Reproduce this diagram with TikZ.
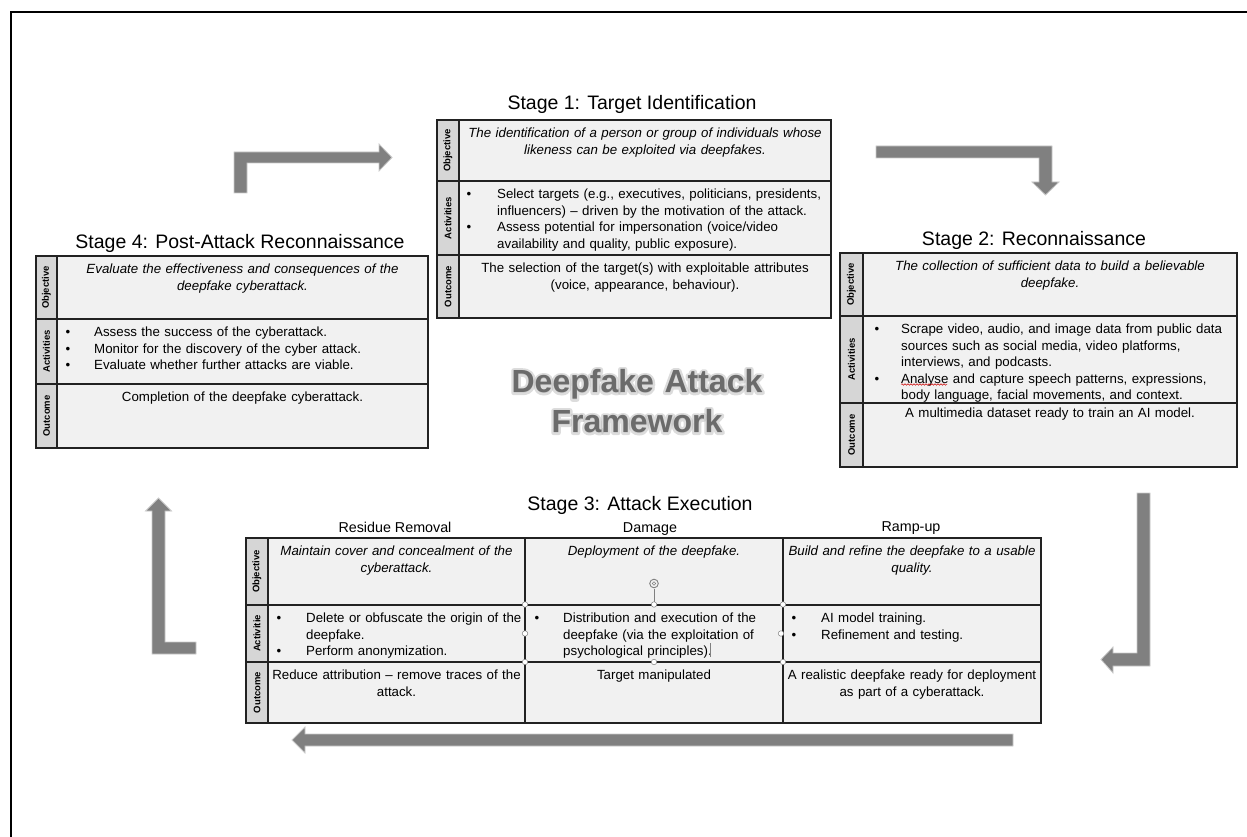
\documentclass[tikz,border=0pt]{standalone}
\usepackage{fontspec}
\setmainfont{Liberation Sans}
\usetikzlibrary{decorations.pathmorphing}
\definecolor{labgray}{HTML}{D6D6D6}
\definecolor{cellgray}{HTML}{F1F1F1}
\definecolor{edge}{HTML}{222222}
\definecolor{arr}{HTML}{808080}
\definecolor{arredge}{HTML}{CACACA}
\definecolor{ctitle}{HTML}{6B6B6B}
\newcommand{\bodyfont}{\fontsize{13.3}{16.5}\selectfont}
\newcommand{\bl}[1]{\strut\makebox[#1pt][l]{\textbullet}}
\newcommand{\ind}[1]{\strut\hspace*{#1pt}}
\tikzset{
  labcell/.style={fill=labgray, draw=edge, line width=1.6pt},
  cellbox/.style={fill=cellgray, draw=edge, line width=1.6pt},
  labtxt/.style={rotate=90, font=\fontsize{9.5}{11}\selectfont\bfseries, inner sep=0},
  ctext/.style={anchor=north, align=center, text width=#1, inner sep=0, font=\bodyfont},
  btext/.style={anchor=north west, align=left, text width=#1, inner sep=0, font=\bodyfont},
  stagetitle/.style={anchor=base, font=\fontsize{19.5}{23}\selectfont, inner sep=0},
  colhead/.style={anchor=base, font=\fontsize{14.3}{17}\selectfont, inner sep=0},
  blockarrow/.style={fill=arr, draw=arredge, line width=0.8pt, line join=miter},
  handle/.style={circle, fill=white, draw=gray, line width=0.5pt, minimum size=5.5pt, inner sep=0},
  bigtitle/.style={anchor=north, align=center, text width=320pt, inner sep=0,
     font=\fontsize{32}{40}\selectfont\bfseries},
}
\begin{document}
\begin{tikzpicture}[x=1pt,y=-1pt]
\useasboundingbox (0,0) rectangle (1247,837);
% frame (top and left edges only)
\draw[line width=2pt] (11,837) -- (11,12) -- (1247,12);

% ---------------- Stage 1 ----------------
\node[stagetitle] (s1t) at (632,109.3) {Stage 1: Target Identification};
\draw[cellbox] (459,120) rectangle (831,181);
\draw[cellbox] (459,181) rectangle (831,255);
\draw[cellbox] (459,255) rectangle (831,318);
\draw[labcell] (437,120) rectangle (459,181);
\draw[labcell] (437,181) rectangle (459,255);
\draw[labcell] (437,255) rectangle (459,318);
\node[labtxt] (s1lo) at (448,150.5) {Objective};
\node[labtxt] (s1la) at (448,218) {Activities};
\node[labtxt] (s1lu) at (448,286.5) {Outcome};
\node[ctext=380pt] (s1o) at (645,126) {\strut\itshape The identification of a person or group of individuals whose\\ likeness can be exploited via deepfakes.};
\node[btext=380pt] (s1a) at (466.5,187) {\bl{30.5}Select targets (e.g., executives, politicians, presidents,\\ \ind{30.5}influencers) – driven by the motivation of the attack.\\ \bl{30.5}Assess potential for impersonation (voice/video\\ \ind{30.5}availability and quality, public exposure).};
\node[ctext=380pt] (s1u) at (645,261) {\strut The selection of the target(s) with exploitable attributes\\ (voice, appearance, behaviour).};

% ---------------- Stage 4 ----------------
\node[stagetitle] (s4t) at (240,248.3) {Stage 4: Post-Attack Reconnaissance};
\draw[cellbox] (57,256) rectangle (428,319);
\draw[cellbox] (57,319) rectangle (428,384);
\draw[cellbox] (57,384) rectangle (428,448);
\draw[labcell] (36,256) rectangle (57,319);
\draw[labcell] (36,319) rectangle (57,384);
\draw[labcell] (36,384) rectangle (57,448);
\node[labtxt] (s4lo) at (46.5,287.5) {Objective};
\node[labtxt] (s4la) at (46.5,351.5) {Activities};
\node[labtxt] (s4lu) at (46.5,416) {Outcome};
\node[ctext=380pt] (s4o) at (242.5,262) {\strut\itshape Evaluate the effectiveness and consequences of the\\ deepfake cyberattack.};
\node[btext=370pt] (s4a) at (65.5,325) {\bl{28.5}Assess the success of the cyberattack.\\ \bl{28.5}Monitor for the discovery of the cyber attack.\\ \bl{28.5}Evaluate whether further attacks are viable.};
\node[ctext=380pt] (s4u) at (242.5,390) {\strut Completion of the deepfake cyberattack.};

% ---------------- Stage 2 ----------------
\node[stagetitle] (s2t) at (1034,245) {Stage 2: Reconnaissance};
\draw[cellbox] (863,253) rectangle (1237,316);
\draw[cellbox] (863,316) rectangle (1237,403);
\draw[cellbox] (863,403) rectangle (1237,467);
\draw[labcell] (840,253) rectangle (863,316);
\draw[labcell] (840,316) rectangle (863,403);
\draw[labcell] (840,403) rectangle (863,467);
\node[labtxt] (s2lo) at (851.5,284.5) {Objective};
\node[labtxt] (s2la) at (851.5,359.5) {Activities};
\node[labtxt] (s2lu) at (851.5,435) {Outcome};
\node[ctext=380pt] (s2o) at (1050,259) {\strut\itshape The collection of sufficient data to build a believable\\ deepfake.};
\node[btext=380pt] (s2a) at (874.5,322) {\bl{26.5}Scrape video, audio, and image data from public data\\ \ind{26.5}sources such as social media, video platforms,\\ \ind{26.5}interviews, and podcasts.\\ \bl{26.5}Analyse and capture speech patterns, expressions,\\ \ind{26.5}body language, facial movements, and context.};
\node[ctext=380pt] (s2u) at (1050,406) {\strut A multimedia dataset ready to train an AI model.};
\draw[red!80!black, line width=0.5pt, decorate, decoration={snake, amplitude=0.8pt, segment length=3pt}] (901,384.5) -- (947,384.5);

% ---------------- Stage 3 ----------------
\node[stagetitle] (s3t) at (640,510) {Stage 3: Attack Execution};
\node[colhead] (s3h1) at (395,532.7) {Residue Removal};
\node[colhead] (s3h2) at (650,532.7) {Damage};
\node[colhead] (s3h3) at (911,531.7) {Ramp-up};
\foreach \xa/\xb in {268/525,525/783,783/1041}{
  \draw[cellbox] (\xa,538) rectangle (\xb,605);
  \draw[cellbox] (\xa,605) rectangle (\xb,662);
  \draw[cellbox] (\xa,662) rectangle (\xb,723);
}
\draw[labcell] (246,538) rectangle (268,605);
\draw[labcell] (246,605) rectangle (268,662);
\draw[labcell] (246,662) rectangle (268,723);
\node[labtxt] (s3lo) at (257,571.5) {Objective};
\node[labtxt] (s3la) at (257,633.5) {Activitie};
\node[labtxt] (s3lu) at (257,692.5) {Outcome};
% objective row
\node[ctext=270pt] (s3o1) at (396.5,544) {\strut\itshape Maintain cover and concealment of the\\ cyberattack.};
\node[ctext=270pt] (s3o2) at (654,544) {\strut\itshape Deployment of the deepfake.};
\node[ctext=270pt] (s3o3) at (912,544) {\strut\itshape Build and refine the deepfake to a usable\\ quality.};
% activities row
\node[btext=270pt] (s3a1) at (276.5,611) {\bl{29.5}Delete or obfuscate the origin of the\\ \ind{29.5}deepfake.\\ \bl{29.5}Perform anonymization.};
\node[btext=270pt] (s3a2) at (534.5,611) {\bl{28.5}Distribution and execution of the\\ \ind{28.5}deepfake (via the exploitation of\\ \ind{28.5}psychological principles).};
\node[btext=270pt] (s3a3) at (791.5,611) {\bl{29.5}AI model training.\\ \bl{29.5}Refinement and testing.};
% outcome row
\node[ctext=270pt] (s3u1) at (396.5,668) {\strut Reduce attribution – remove traces of the\\ attack.};
\node[ctext=270pt] (s3u2) at (654,668) {\strut Target manipulated};
\node[ctext=270pt] (s3u3) at (912,668) {\strut A realistic deepfake ready for deployment\\ as part of a cyberattack.};
% selection handles
\draw[gray, line width=0.6pt] (654,589) -- (654,604);
\draw[gray, line width=0.9pt] (654,583.5) circle (4.3);
\draw[gray, line width=0.6pt] (654,583.5) circle (1.8);
\node[handle] (h1) at (525,604.5) {};
\node[handle] (h2) at (525,633.5) {};
\node[handle] (h3) at (525,662) {};
\node[handle] (h4) at (654,604.5) {};
\node[handle] (h5) at (654,662) {};
\node[handle] (h6) at (783,604.5) {};
\node[handle] (h7) at (781,633.5) {};
\node[handle] (h8) at (783,662) {};
\draw[gray, line width=0.5pt] (710.5,643) -- (710.5,657);

% ---------------- centre title ----------------
\node[bigtitle, text=black!30, opacity=0.45] (ctshadow) at (637,364.5)
  {\special{pdf:literal direct 2 Tr 5 w 1 j}\strut Deepfake Attack\\ Framework};
\node[bigtitle, text=ctitle] (ctit) at (637,364) {\strut Deepfake Attack\\ Framework};

% ---------------- block arrows ----------------
\draw[blockarrow] (234,193) -- (234,152) -- (379,152) -- (379,144) -- (392,157.5) -- (379,171) -- (379,163) -- (247,163) -- (247,193) -- cycle;
\draw[blockarrow] (876,146) -- (1052,146) -- (1052,182) -- (1059,182) -- (1045.5,195) -- (1032,182) -- (1039,182) -- (1039,158) -- (876,158) -- cycle;
\draw[blockarrow] (1137,493) -- (1150,493) -- (1150,666) -- (1113,666) -- (1113,673) -- (1101,659.5) -- (1113,647) -- (1113,653) -- (1137,653) -- cycle;
\draw[blockarrow] (1013,734) -- (1013,746) -- (305,746) -- (305,753) -- (292,740) -- (305,727) -- (305,734) -- cycle;
\draw[blockarrow] (152,654) -- (152,511) -- (145.5,511) -- (158.5,498) -- (171.5,511) -- (165,511) -- (165,642) -- (196,642) -- (196,654) -- cycle;
\end{tikzpicture}
\end{document}
